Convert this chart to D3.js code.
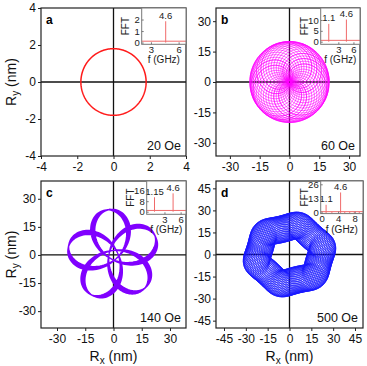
<!DOCTYPE html>
<html><head><meta charset="utf-8">
<script src="https://cdn.jsdelivr.net/npm/d3@7"></script>
<style>
html,body{margin:0;padding:0;background:#fff;}
svg{display:block;font-family:"Liberation Sans",Arial,sans-serif;}
</style></head><body>
<svg id="chart" width="367" height="366"></svg>
<script>
// ---------------- data ----------------
const panelIds    = ["a", "b", "c", "d"];
const fieldLabels = ["20 Oe", "60 Oe", "140 Oe", "500 Oe"];
const trajColors  = ["#ff1a1a", "#ff00ff", "#8000ff", "#1a1aff"];

const xTicksA = [-4, -2, 0, 2, 4],            yTicksA = [-4, -2, 0, 2, 4];
const xTicksB = [-30, -15, 0, 15, 30],        yTicksB = [-30, -15, 0, 15, 30];
const xTicksC = [-30, -15, 0, 15, 30],        yTicksC = [-30, -15, 0, 15, 30];
const xTicksD = [-45, -30, -15, 0, 15, 30, 45], yTicksD = [-45, -30, -15, 0, 15, 30, 45];

const xDomainA = [-4, 4],       yDomainA = [-4, 4];
const xDomainB = [-37, 35.5],   yDomainB = [-36.5, 36.5];
const xDomainC = [-38.5, 38.5], yDomainC = [-39, 39.5];
const xDomainD = [-50.5, 50.5], yDomainD = [-50, 50];

// gyration modes of the core trajectory: frequency (GHz, sign = sense), radius (nm), phase (deg)
const modeFreqA = [4.6],                    modeAmpA = [1.8],                  modePhaseA = [0];
const modeFreqB = [1.1, 4.6],               modeAmpB = [9.7, 10.3],            modePhaseB = [0, 0];
const modeFreqC = [1.15, -4.6],             modeAmpC = [11.0, 13.4],           modePhaseC = [20, 20];
const modeFreqD = [1.1, 4.6, -4.6, -23.0],  modeAmpD = [9.0, 20.6, 1.5, 1.3],  modePhaseD = [0, 0, 0, 90];
const durationNs = [0.2174, 12, 13, 20];     // simulated time shown
const driftDeg   = [0, 0, 50, 0];            // slow phase drift of the 4.6 GHz mode (ribbon of panel c)

// FFT insets
const fftFreqA = [4.6],        fftAmpA = [1.85];
const fftFreqB = [1.1, 4.6],   fftAmpB = [8.2, 10.2];
const fftFreqC = [1.15, 4.6],  fftAmpC = [11, 14];
const fftFreqD = [1.1, 4.6, 2.5, 5.6, 6.8, 7.9, 9.1], fftAmpD = [7.4, 18.6, 1, 1, 1, 1, 1];
const fftLabelA = ["4.6"], fftLabelB = ["1.1", "4.6"], fftLabelC = ["1.15", "4.6"], fftLabelD = ["1.1", "4.6"];
const insetXTicksA = [3, 6],    insetYTicksA = [0, 1, 2];
const insetXTicksB = [3, 6],    insetYTicksB = [0, 5, 10];
const insetXTicksC = [3, 6],    insetYTicksC = [0, 8, 16];
const insetXTicksD = [0, 4, 8], insetYTicksD = [0, 13, 26];
const insetXDomainA = [2, 6.8],    insetYDomainA = [-0.15, 3];
const insetXDomainB = [-0.5, 7.3], insetYDomainB = [-1.2, 15.5];
const insetXDomainC = [-0.3, 7],   insetYDomainC = [-2, 23.4];
const insetXDomainD = [-0.2, 10],  insetYDomainD = [-0.6, 29];

// ---------------- layout ----------------
const boxes = [
  {x0: 41,  x1: 186, y0: 8,   y1: 156},
  {x0: 216, x1: 360, y0: 8,   y1: 156},
  {x0: 41,  x1: 186, y0: 181, y1: 328},
  {x0: 216, x1: 363, y0: 181, y1: 328}
];
const insetBoxes = [
  {x0: 141.7, y1: 44.3},
  {x0: 320.7, y1: 44.3},
  {x0: 146.7, y1: 214.3},
  {x0: 320.7, y1: 213.6}
];

const P = [
  {xT: xTicksA, yT: yTicksA, xD: xDomainA, yD: yDomainA, mf: modeFreqA, ma: modeAmpA, mp: modePhaseA,
   ff: fftFreqA, fa: fftAmpA, fl: fftLabelA, ixT: insetXTicksA, iyT: insetYTicksA, ixD: insetXDomainA, iyD: insetYDomainA},
  {xT: xTicksB, yT: yTicksB, xD: xDomainB, yD: yDomainB, mf: modeFreqB, ma: modeAmpB, mp: modePhaseB,
   ff: fftFreqB, fa: fftAmpB, fl: fftLabelB, ixT: insetXTicksB, iyT: insetYTicksB, ixD: insetXDomainB, iyD: insetYDomainB},
  {xT: xTicksC, yT: yTicksC, xD: xDomainC, yD: yDomainC, mf: modeFreqC, ma: modeAmpC, mp: modePhaseC,
   ff: fftFreqC, fa: fftAmpC, fl: fftLabelC, ixT: insetXTicksC, iyT: insetYTicksC, ixD: insetXDomainC, iyD: insetYDomainC},
  {xT: xTicksD, yT: yTicksD, xD: xDomainD, yD: yDomainD, mf: modeFreqD, ma: modeAmpD, mp: modePhaseD,
   ff: fftFreqD, fa: fftAmpD, fl: fftLabelD, ixT: insetXTicksD, iyT: insetYTicksD, ixD: insetXDomainD, iyD: insetYDomainD}
];

const svg = d3.select("#chart");
const frameCol = "#222";
const fftCol = "#f06a6a";
const fmtInt = d3.format("d");

// superpose the modes into the core position
function trajectory(i) {
  const p = P[i], T = durationNs[i];
  const fmax = d3.max(p.mf, Math.abs);
  const n = Math.max(200, Math.ceil(T * fmax * 90));
  const drift = driftDeg[i] * Math.PI / 180;
  const pts = [];
  for (let k = 0; k <= n; k++) {
    const t = T * k / n;
    let x = 0, y = 0;
    p.mf.forEach((f, j) => {
      const ph = 2 * Math.PI * f * t + p.mp[j] * Math.PI / 180 + (j === 1 ? drift * t / T : 0);
      x += p.ma[j] * Math.cos(ph);
      y += p.ma[j] * Math.sin(ph);
    });
    pts.push([x, y]);
  }
  return pts;
}

panelIds.forEach((id, i) => {
  const p = P[i], b = boxes[i];
  const g = svg.append("g");
  const x = d3.scaleLinear().domain(p.xD).range([b.x0, b.x1]);
  const y = d3.scaleLinear().domain(p.yD).range([b.y1, b.y0]);

  const clipId = "clip" + id;
  g.append("clipPath").attr("id", clipId).append("rect")
    .attr("x", b.x0).attr("y", b.y0).attr("width", b.x1 - b.x0).attr("height", b.y1 - b.y0);

  // axes
  const ax = g.append("g").attr("transform", `translate(0,${b.y1})`)
    .call(d3.axisBottom(x).tickValues(p.xT).tickSize(3).tickPadding(3).tickFormat(fmtInt));
  const ay = g.append("g").attr("transform", `translate(${b.x0},0)`)
    .call(d3.axisLeft(y).tickValues(p.yT).tickSize(3).tickPadding(2).tickFormat(fmtInt));
  [ax, ay].forEach(a => {
    a.select(".domain").remove();
    a.selectAll("line").attr("stroke", frameCol);
    a.selectAll("text").attr("font-size", 12).attr("fill", "#111")
      .text(d => d < 0 ? "-" + Math.abs(d) : d);
  });

  // crosshair
  g.append("line").attr("x1", x(0)).attr("x2", x(0)).attr("y1", b.y0).attr("y2", b.y1)
    .attr("stroke", "#111").attr("stroke-width", 1.3);
  g.append("line").attr("x1", b.x0).attr("x2", b.x1).attr("y1", y(0)).attr("y2", y(0))
    .attr("stroke", "#111").attr("stroke-width", 1.3);

  // trajectory
  const line = d3.line().x(d => x(d[0])).y(d => y(d[1]));
  g.append("path").attr("clip-path", `url(#${clipId})`)
    .attr("d", line(trajectory(i)))
    .attr("fill", "none").attr("stroke", trajColors[i])
    .attr("stroke-width", [1.5, 0.6, 1.2, 0.55][i]);

  // frame
  g.append("rect").attr("x", b.x0).attr("y", b.y0).attr("width", b.x1 - b.x0).attr("height", b.y1 - b.y0)
    .attr("fill", "none").attr("stroke", frameCol).attr("stroke-width", 1.2);

  // panel letter and field
  g.append("text").attr("x", b.x0 + 5).attr("y", b.y0 + 16).attr("font-size", 12)
    .attr("font-weight", "bold").text(id);
  g.append("text").attr("x", b.x1 - 5).attr("y", b.y1 - 6).attr("font-size", 12.5)
    .attr("text-anchor", "end").attr("fill", "#111").text(fieldLabels[i]);

  // ---- inset FFT ----
  const ib = insetBoxes[i];
  const ix = d3.scaleLinear().domain(p.ixD).range([ib.x0, b.x1]);
  const iy = d3.scaleLinear().domain(p.iyD).range([ib.y1, b.y0]);
  const ig = g.append("g");
  ig.append("rect").attr("x", ib.x0).attr("y", b.y0).attr("width", b.x1 - ib.x0).attr("height", ib.y1 - b.y0)
    .attr("fill", "#fff");
  ig.append("line").attr("x1", ix(p.ixD[0])).attr("x2", ix(p.ixD[1]))
    .attr("y1", iy(0.04 * p.iyD[1])).attr("y2", iy(0.04 * p.iyD[1]))
    .attr("stroke", fftCol).attr("stroke-width", 1);
  ig.selectAll("line.pk").data(p.ff).join("line").attr("class", "pk")
    .attr("x1", d => ix(d)).attr("x2", d => ix(d))
    .attr("y1", iy(0)).attr("y2", (d, k) => iy(p.fa[k]))
    .attr("stroke", fftCol).attr("stroke-width", 1);
  ig.selectAll("text.pl").data(p.fl).join("text").attr("class", "pl")
    .attr("x", (d, k) => ix(p.ff[k])).attr("y", (d, k) => iy(p.fa[k]) - 2.5)
    .attr("text-anchor", "middle").attr("font-size", 9.5).attr("fill", "#222").text(d => d);
  ig.append("rect").attr("x", ib.x0).attr("y", b.y0).attr("width", b.x1 - ib.x0).attr("height", ib.y1 - b.y0)
    .attr("fill", "none").attr("stroke", "#777").attr("stroke-width", 1);
  const iax = ig.append("g").attr("transform", `translate(0,${ib.y1})`)
    .call(d3.axisBottom(ix).tickValues(p.ixT).tickSize(-2).tickPadding(2).tickFormat(fmtInt));
  const iay = ig.append("g").attr("transform", `translate(${ib.x0},0)`)
    .call(d3.axisLeft(iy).tickValues(p.iyT).tickSize(-2).tickPadding(2).tickFormat(fmtInt));
  [iax, iay].forEach(a => {
    a.select(".domain").remove();
    a.selectAll("line").attr("stroke", "#777");
    a.selectAll("text").attr("font-size", 9.5).attr("fill", "#222");
  });
  ig.append("text").attr("transform", `translate(${ib.x0 - 13},${(b.y0 + ib.y1) / 2}) rotate(-90)`)
    .attr("text-anchor", "middle").attr("font-size", 10).attr("fill", "#222").text("FFT");
  ig.append("text").attr("x", (ib.x0 + b.x1) / 2).attr("y", ib.y1 + 19)
    .attr("text-anchor", "middle").attr("font-size", 10).attr("fill", "#222").text("f (GHz)");

  // axis titles
  if (i % 2 === 0) {
    const t = g.append("text").attr("transform", `translate(16,${(b.y0 + b.y1) / 2}) rotate(-90)`)
      .attr("text-anchor", "middle").attr("font-size", 14).attr("fill", "#111");
    t.append("tspan").text("R");
    t.append("tspan").attr("font-size", 10).attr("dy", 3).text("y");
    t.append("tspan").attr("dy", -3).text(" (nm)");
  }
  if (i >= 2) {
    const t = g.append("text").attr("x", x(0)).attr("y", 361)
      .attr("text-anchor", "middle").attr("font-size", 14).attr("fill", "#111");
    t.append("tspan").text("R");
    t.append("tspan").attr("font-size", 10).attr("dy", 3).text("x");
    t.append("tspan").attr("dy", -3).text(" (nm)");
  }
});
</script>
</body></html>
